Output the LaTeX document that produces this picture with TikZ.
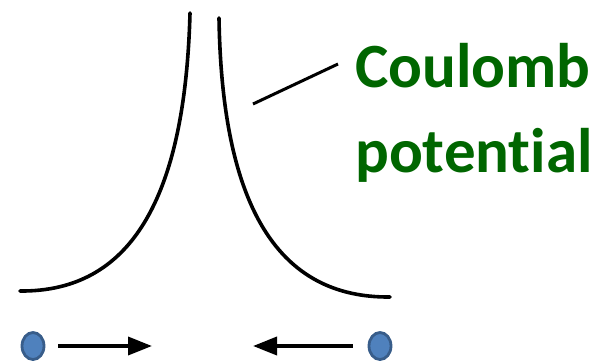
\documentclass[tikz,border=0pt]{standalone}
\usepackage{fontspec}
\setmainfont{Carlito}[Ligatures=NoCommon,Contextuals=NoAlternate]
\usetikzlibrary{arrows.meta,shapes.geometric}
\definecolor{cgreen}{RGB}{0,102,0}
\definecolor{pfill}{RGB}{79,129,189}
\definecolor{pdraw}{RGB}{56,93,138}
\tikzset{
  curve/.style={line width=3.6pt, line cap=round},
  particle/.style={ellipse, draw=pdraw, fill=pfill, line width=2.8pt, minimum width=22pt, minimum height=27pt, inner sep=0pt},
  motion/.style={line width=3.6pt, -{Triangle[length=24pt, width=18pt]}},
  lead/.style={line width=3pt},
  label/.style={text=cgreen, font=\bfseries\fontsize{63}{85}\selectfont, anchor=base west, inner sep=0pt}
}
\begin{document}
\begin{tikzpicture}[x=1pt, y=-1pt]
\useasboundingbox (0,0) rectangle (603,360);
\draw[curve] (20,291) .. controls (130,292) and (185,200) .. (190,13);
\draw[curve] (219,18) .. controls (222,210) and (280,298) .. (390,297);
\coordinate (l1) at (253,104);
\coordinate (l2) at (338,64);
\draw[lead] (l1) -- (l2);
\node[label] (txt1) at (355,87) {Coulomb};
\node[label] (txt2) at (355,172) {potential};
\node[particle] (p1) at (33,346) {};
\node[particle] (p2) at (380,346) {};
\coordinate (a1) at (152,346);
\coordinate (a2) at (253,346);
\draw[motion] (p1.east) ++(13,0) coordinate (s1) (s1) -- (a1);
\draw[motion] (p2.west) ++(-15,0) coordinate (s2) (s2) -- (a2);
\end{tikzpicture}
\end{document}
